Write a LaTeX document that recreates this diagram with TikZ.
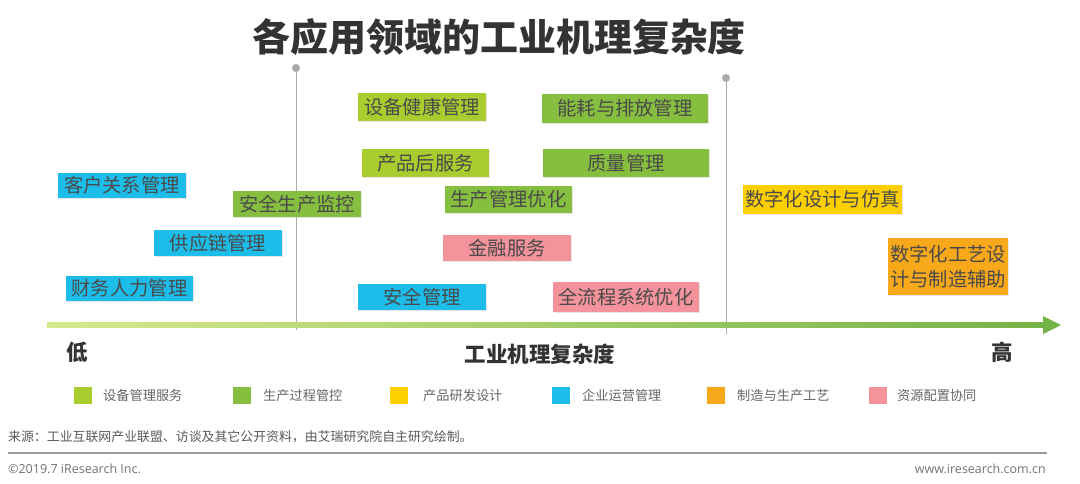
\documentclass[tikz,border=0pt]{standalone}
\usepackage{fontspec}
\setmainfont{Noto Sans CJK SC}
\newfontfamily\latinsans{Open Sans}
\usetikzlibrary{shadows}
\definecolor{lime}{HTML}{A9CC2E}
\definecolor{grn}{HTML}{86BF3F}
\definecolor{ylw}{HTML}{FFD000}
\definecolor{cyn}{HTML}{1DBDEA}
\definecolor{org}{HTML}{F7A91A}
\definecolor{pnk}{HTML}{F4939B}
\definecolor{boxtext}{HTML}{4A4A4A}
\definecolor{axisL}{HTML}{D6E98E}
\definecolor{axisR}{HTML}{74B347}
\definecolor{vline}{HTML}{AAAAAA}
\tikzset{
  box/.style={inner sep=0pt, text=boxtext, font=\fontsize{19.3}{25}\selectfont,
    drop shadow={opacity=0.18, shadow xshift=1pt, shadow yshift=-1.2pt}},
  legsq/.style={inner sep=0pt, minimum width=18pt, minimum height=17pt},
  legtx/.style={anchor=west, inner sep=0pt, text=black!60, font=\fontsize{13.2}{15}\selectfont},
  axlab/.style={text=black!80, font=\fontsize{21.5}{24}\selectfont\bfseries},
  vl/.style={draw=vline, line width=0.9pt},
}
\begin{document}
\begin{tikzpicture}[x=1pt,y=-1pt]
\useasboundingbox (0,0) rectangle (1080,483);
\fill[white] (0,0) rectangle (1080,483);

% title
\node[text=black!80, font=\fontsize{38}{41}\selectfont\bfseries] (title) at (499,37) {各应用领域的工业机理复杂度};

% vertical dividers
\coordinate (v1t) at (296,68);
\coordinate (v1b) at (296,330);
\coordinate (v2t) at (726,78);
\coordinate (v2b) at (726,334);
\draw[vl] (v1t) -- (v1b);
\draw[vl] (v2t) -- (v2b);
\fill[vline] (v1t) circle (4pt);
\fill[vline] (v2t) circle (4pt);

% axis
\coordinate (axL) at (47,325);
\coordinate (axR) at (1061,325);
\shade[left color=axisL, right color=axisR] (47,322.5) rectangle (1045,327.5);
\fill[axisR] (1043,316) -- (axR) -- (1043,334) -- cycle;

\node[axlab] (low) at (77,352) {低};
\node[axlab] (high) at (1002,352) {高};
\node[axlab] (axname) at (540,354) {工业机理复杂度};

% boxes
\node[box, fill=cyn,  minimum width=128pt, minimum height=25pt] (b1)  at (122,185.5) {客户关系管理};
\node[box, fill=grn,  minimum width=128pt, minimum height=26pt] (b2)  at (297,204) {安全生产监控};
\node[box, fill=cyn,  minimum width=128pt, minimum height=26pt] (b3)  at (218,243) {供应链管理};
\node[box, fill=cyn,  minimum width=127pt, minimum height=25pt] (b4)  at (129.5,288.5) {财务人力管理};
\node[box, fill=lime, minimum width=128pt, minimum height=28pt] (b5)  at (422,107) {设备健康管理};
\node[box, fill=grn,  minimum width=166pt, minimum height=29pt] (b6)  at (625,108.5) {能耗与排放管理};
\node[box, fill=lime, minimum width=127pt, minimum height=28pt] (b7)  at (425.5,163) {产品后服务};
\node[box, fill=grn,  minimum width=166pt, minimum height=28pt] (b8)  at (626,163) {质量管理};
\node[box, fill=grn,  minimum width=127pt, minimum height=27pt] (b9)  at (508.5,199.5) {生产管理优化};
\node[box, fill=pnk,  minimum width=128pt, minimum height=26pt] (b10) at (507,248) {金融服务};
\node[box, fill=cyn,  minimum width=128pt, minimum height=26pt] (b11) at (422,297) {安全管理};
\node[box, fill=pnk,  minimum width=146pt, minimum height=30pt] (b12) at (626,297) {全流程系统优化};
\node[box, fill=ylw,  minimum width=159pt, minimum height=29pt] (b13) at (822.5,199.5) {数字化设计与仿真};
\node[box, fill=org,  minimum width=120pt, minimum height=57pt, align=center] (b14) at (948,266.5) {数字化工艺设\\计与制造辅助};

% legend
\node[legsq, fill=lime] (s1) at (82.5,395.5) {};
\node[legtx] (t1) at (103,395.5) {设备管理服务};
\node[legsq, fill=grn] (s2) at (242,395.5) {};
\node[legtx] (t2) at (263,395.5) {生产过程管控};
\node[legsq, fill=ylw] (s3) at (398.5,395.5) {};
\node[legtx] (t3) at (423,395.5) {产品研发设计};
\node[legsq, fill=cyn] (s4) at (561,395.5) {};
\node[legtx] (t4) at (582,395.5) {企业运营管理};
\node[legsq, fill=org] (s5) at (716,395.5) {};
\node[legtx] (t5) at (737,395.5) {制造与生产工艺};
\node[legsq, fill=pnk] (s6) at (878,395.5) {};
\node[legtx] (t6) at (897,395.5) {资源配置协同};

% source and footer
\node[anchor=west, inner sep=0pt, text=black!65, font=\fontsize{12.9}{14}\selectfont] (src) at (8,437) {来源：工业互联网产业联盟、访谈及其它公开资料，由艾瑞研究院自主研究绘制。};
\coordinate (fl) at (8,453);
\coordinate (fr) at (1047,453);
\draw[black!40, line width=1.6pt] (fl) -- (fr);
\node[anchor=west, inner sep=0pt, text=black!55, font=\latinsans\fontsize{12.5}{14}\selectfont] (copy) at (8,469) {©2019.7 iResearch Inc.};
\node[anchor=east, inner sep=0pt, text=black!55, font=\latinsans\fontsize{12.5}{14}\selectfont] (web) at (1046,469) {www.iresearch.com.cn};
\end{tikzpicture}
\end{document}
